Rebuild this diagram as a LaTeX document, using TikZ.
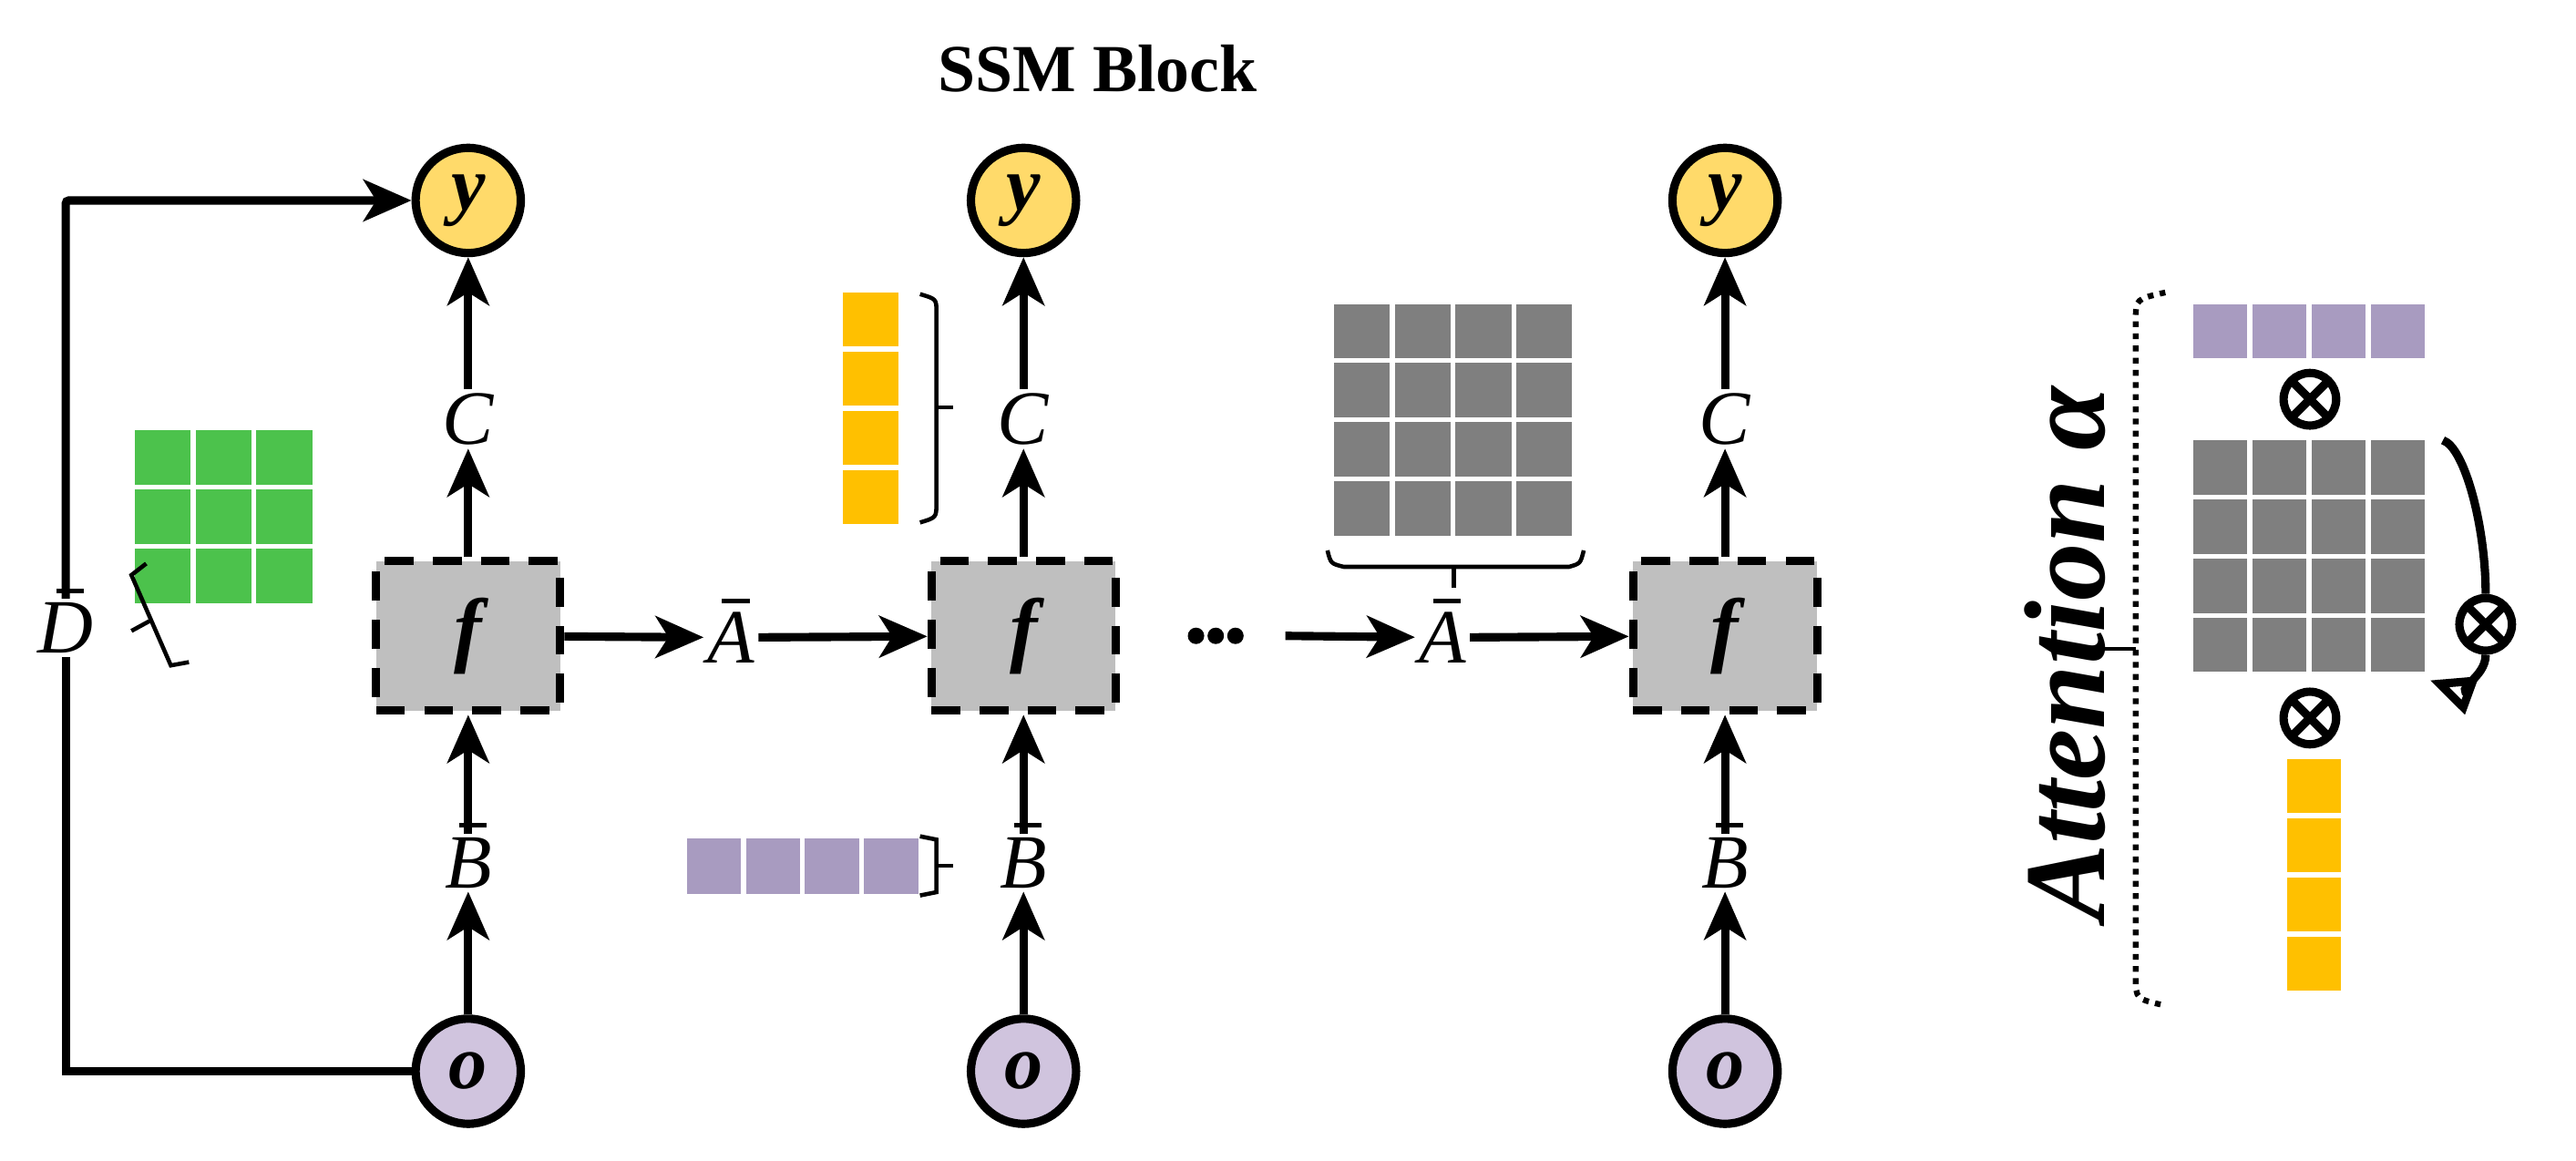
\documentclass[tikz,border=0pt]{standalone}
\usepackage{fontspec}
\setmainfont{Liberation Serif}
\usetikzlibrary{arrows.meta,decorations.pathreplacing,calc}
\definecolor{cy}{HTML}{FFDA6A}
\definecolor{cp}{HTML}{D0C4DE}
\definecolor{cg}{HTML}{4CC24C}
\definecolor{cgr}{HTML}{7F7F7F}
\definecolor{cyl}{HTML}{FFC000}
\definecolor{cpl}{HTML}{A89BC0}
\newcommand{\barit}[1]{\ooalign{\textit{#1}\cr\hidewidth\raisebox{0.78em}[0.9em]{\kern0.12em\rule{0.36em}{0.06em}}\hidewidth\cr}}
\begin{document}
\begin{tikzpicture}[x=0.018029cm,y=-0.018029cm,
  lw/.style={line width=2.6pt},
  arr/.style={lw,-{Stealth[length=15pt,width=13pt,inset=4pt]}},
  lab/.style={font=\fontsize{24}{24}\selectfont,inner sep=1pt},
  fbox/.style={draw,lw,dash pattern=on 9pt off 6pt,fill=black!25,minimum width=112*0.018029cm,minimum height=91*0.018029cm,font=\fontsize{26}{26}\selectfont\bfseries\itshape},
  circ/.style={circle,draw,lw,minimum size=64*0.018029cm,font=\fontsize{24}{24}\selectfont\bfseries\itshape},
  brk/.style={line width=1.3pt},
  otimes/.style={circle,draw,lw,minimum size=32*0.018029cm,inner sep=0pt,path picture={\draw[lw] (path picture bounding box.north west)--(path picture bounding box.south east) (path picture bounding box.north east)--(path picture bounding box.south west);}}
]
\useasboundingbox (0,0) rectangle (1568,706.6);
\newcommand{\cells}[7]{% x0 y0 cols rows w h color
  \foreach \i in {1,...,#3}{\foreach \j in {1,...,#4}{
    \fill[#7] ({#1+(\i-1)*(#5+3)},{#2+(\j-1)*(#6+3)}) rectangle ++(#5,#6);}}}
\node[font=\fontsize{21}{21}\selectfont\bfseries] (title) at (668,42) {SSM Block};
\foreach \n/\x in {1/285,2/623,3/1050}{
  \node[circ,fill=cy] (y\n) at (\x,122) {y};
  \node[lab] (c\n) at (\x,255) {\textit{C}};
  \node[fbox] (f\n) at (\x,387) {f};
  \node[lab] (b\n) at (\x,525) {\barit{B}};
  \node[circ,fill=cp] (o\n) at (\x,652) {o};
  \draw[arr] (f\n) -- (c\n);
  \draw[arr] (c\n) -- (y\n);
  \draw[arr] (o\n) -- (b\n);
  \draw[arr] (b\n) -- (f\n);
}
\node[lab] (a1) at (445,388) {\barit{A}};
\node[inner sep=0pt,minimum width=34*0.018029cm,minimum height=10*0.018029cm] (dots) at (740,387) {};
\foreach \dx in {-12,0,12} \fill ($(dots.center)+(\dx,0)$) circle (5);
\node[lab] (a2) at (878,388) {\barit{A}};
\draw[arr] (f1) -- (a1);
\draw[arr] (a1) -- (f2);
\draw[arr] (dots.east) ++(25,0) coordinate (d1) -- (a2);
\draw[arr] (a2) -- (f3);
% D bar loop
\node[lab] (dd) at (40,382) {\barit{D}};
\draw[lw] (o1.west) -| (dd.south);
\draw[arr,rounded corners=1pt] (dd.north) |- (y1.west);
% green grid
\cells{82}{262}{3}{3}{34}{33}{cg}
\draw[brk] (89,343) -- (80,350) -- (104,405) -- (115,403);
\draw[brk] (91,378) -- (80,384);
% yellow column with bracket
\cells{513}{178}{1}{4}{34}{33}{cyl}
\draw[brk] (560,179) .. controls (570,182) .. (570,190) -- (570,306) .. controls (570,315) .. (560,318);
\draw[brk] (570,248) -- (580,248);
% purple row with bracket
\cells{418}{510}{4}{1}{33}{34}{cpl}
\draw[brk] (560,509) -- (570,511) -- (570,543) -- (560,545);
\draw[brk] (570,527) -- (580,527);
% gray grid with bracket
\cells{812}{185}{4}{4}{34}{33}{cgr}
\draw[brk] (808,335) .. controls (810,343) .. (818,345) -- (955,345) .. controls (962,343) .. (964,335);
\draw[brk] (885,345) -- (885,358);
% Attention side
\node[rotate=90,font=\fontsize{36}{36}\selectfont\bfseries\itshape] (att) at (1257,398) {Attention α};
\draw[line width=1.8pt,dotted] (1318,178) .. controls (1300,182) .. (1300,195) -- (1300,595) .. controls (1300,608) .. (1318,612);
\draw[line width=1.3pt] (1280,395) -- (1300,395);
\cells{1335}{185}{4}{1}{33}{33}{cpl}
\node[otimes] (x1) at (1406,243) {};
\cells{1335}{268}{4}{4}{33}{33}{cgr}
\node[otimes] (x3) at (1406,437) {};
\cells{1392}{462}{1}{4}{33}{33}{cyl}
\node[otimes] (x2) at (1513,380) {};
\coordinate (gs) at (1487,268);
\coordinate (ge) at (1479,414);
\draw[lw] (gs) .. controls (1500,272) and (1513,320) .. (x2.north);
\draw[lw,-{Triangle[open,length=14pt,width=12pt]}] (x2.south) to[out=-90,in=-20] (ge);
\end{tikzpicture}
\end{document}
